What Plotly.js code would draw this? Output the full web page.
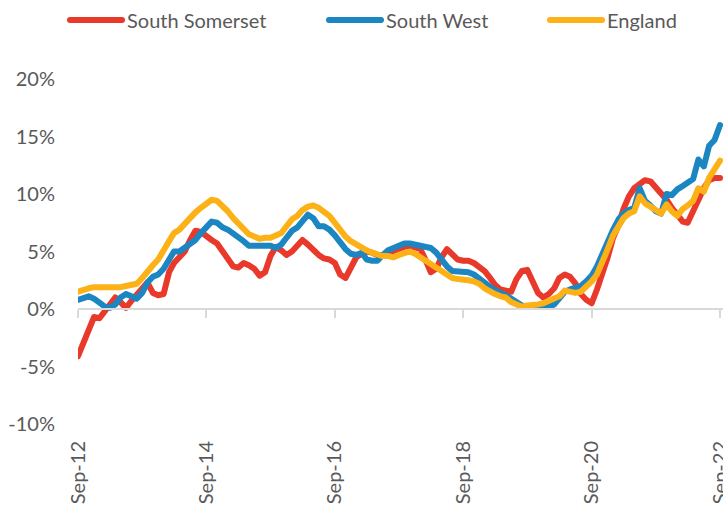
<!DOCTYPE html>
<html>
<head>
<meta charset="utf-8">
<script src="https://cdn.plot.ly/plotly-3.0.1.min.js"></script>
<style>
html, body { margin: 0; padding: 0; background: #fff; overflow: hidden; }
#chart { width: 723px; height: 508px; }
.js-line { stroke-linejoin: round; stroke-linecap: round; }
</style>
</head>
<body>
<div id="chart"></div>
<script>
// Monthly series, Sep-2012 .. Sep-2022 (annual % change)
const startMonth = '2012-09';
const seriesNames = ['South Somerset', 'South West', 'England'];
const seriesColors = ['#e8392b', '#1b86c2', '#fcb117'];

const southSomerset = [
  -4.1, -2.9, -1.7, -0.7, -0.8, -0.2, 0.4, 1.0, 0.6, 0.1, 0.7, 1.3,
  1.9, 2.3, 1.4, 1.2, 1.3, 3.2, 4.0, 4.5, 5.0, 6.0, 6.8, 6.7,
  6.3, 6.0, 5.7, 5.0, 4.3, 3.7, 3.6, 4.0, 3.8, 3.5, 2.9, 3.2,
  4.6, 5.4, 5.1, 4.7, 5.0, 5.5, 6.0, 5.6, 5.1, 4.7, 4.4, 4.3,
  4.0, 3.0, 2.7, 3.6, 4.5, 4.8, 5.0, 4.9, 4.7, 4.7, 4.9, 5.0,
  5.2, 5.4, 5.5, 5.4, 5.2, 4.2, 3.2, 3.5, 4.5, 5.2, 4.8, 4.3,
  4.2, 4.2, 4.0, 3.7, 3.3, 2.7, 2.1, 1.7, 1.6, 1.5, 2.6, 3.3,
  3.4, 2.4, 1.4, 1.0, 1.3, 1.8, 2.7, 3.0, 2.8, 2.2, 1.3, 0.8,
  0.5, 1.7, 3.0, 4.5, 6.2, 7.3, 8.7, 9.8, 10.5, 10.9, 11.2, 11.1,
  10.6, 10.0, 9.5, 8.8, 8.2, 7.6, 7.5, 8.5, 9.7, 10.5, 11.2, 11.4,
  11.4
];

const southWest = [
  0.8, 0.9, 1.1, 0.9, 0.6, 0.2, 0.1, 0.4, 1.0, 1.3, 1.1, 0.9,
  1.4, 2.3, 2.8, 3.0, 3.5, 4.3, 5.0, 5.0, 5.3, 5.6, 6.0, 6.6,
  7.1, 7.6, 7.5, 7.1, 6.9, 6.6, 6.3, 5.9, 5.5, 5.5, 5.6, 5.6,
  5.5, 5.3, 5.6, 6.2, 6.8, 7.1, 7.6, 8.2, 7.9, 7.2, 7.2, 6.9,
  6.4, 5.7, 5.2, 4.8, 4.7, 4.9, 4.3, 4.2, 4.2, 4.7, 5.1, 5.3,
  5.5, 5.7, 5.7, 5.6, 5.5, 5.4, 5.3, 4.9, 4.2, 3.7, 3.3, 3.3,
  3.3, 3.2, 3.0, 2.7, 2.3, 1.9, 1.6, 1.4, 1.2, 0.9, 0.6, 0.3,
  0.2, 0.2, 0.1, 0.1, 0.2, 0.4, 1.0, 1.5, 1.7, 1.8, 2.0, 2.4,
  2.9, 3.7, 4.8, 6.0, 6.9, 7.8, 8.3, 8.6, 8.8, 10.5, 9.4, 9.0,
  8.5, 8.3, 10.0, 9.9, 10.4, 10.7, 11.0, 11.3, 13.0, 12.4, 14.2, 14.7,
  16.0
];

const england = [
  1.5, 1.7, 1.8, 1.9, 1.9, 1.8, 1.8, 1.8, 1.9, 2.0, 2.1, 2.2,
  2.7, 3.3, 3.8, 4.3, 5.0, 5.9, 6.6, 6.9, 7.4, 8.0, 8.4, 8.8,
  9.2, 9.5, 9.4, 9.0, 8.5, 7.9, 7.5, 7.0, 6.5, 6.3, 6.1, 6.2,
  6.2, 6.4, 6.6, 7.2, 7.8, 8.1, 8.6, 8.9, 9.0, 8.8, 8.5, 8.1,
  7.5, 6.9, 6.3, 5.9, 5.6, 5.3, 5.1, 4.9, 4.7, 4.6, 4.6, 4.5,
  4.7, 4.9, 5.0, 4.8, 4.5, 4.1, 3.8, 3.5, 3.2, 2.9, 2.7, 2.6,
  2.6, 2.5, 2.4, 2.2, 1.8, 1.5, 1.3, 1.1, 1.0, 0.6, 0.4, 0.2,
  0.3, 0.3, 0.4, 0.5, 0.7, 0.9, 1.1, 1.6, 1.5, 1.4, 1.5, 1.9,
  2.4, 3.0, 4.0, 5.2, 6.4, 7.3, 7.9, 8.3, 8.5, 9.8, 9.2, 8.9,
  8.6, 8.3, 9.1, 8.5, 8.1, 8.7, 9.0, 9.4, 10.5, 10.2, 11.4, 12.2,
  12.9
];

const xTickVals = ['2012-09-01', '2014-09-01', '2016-09-01', '2018-09-01', '2020-09-01', '2022-09-01'];
const xTickLabels = ['Sep-12', 'Sep-14', 'Sep-16', 'Sep-18', 'Sep-20', 'Sep-22'];
const yTickVals = [-10, -5, 0, 5, 10, 15, 20];
const yTickLabels = ['-10%', '-5%', '0%', '5%', '10%', '15%', '20%'];

// month categories
function monthList(start, n) {
  const [y0, m0] = start.split('-').map(Number);
  const out = [];
  for (let i = 0; i < n; i++) {
    const t = (m0 - 1) + i;
    const y = y0 + Math.floor(t / 12);
    const m = (t % 12) + 1;
    out.push(y + '-' + String(m).padStart(2, '0') + '-01');
  }
  return out;
}
const months = monthList(startMonth, southSomerset.length);

const legendIds = ['legend', 'legend2', 'legend3'];
const allSeries = [southSomerset, southWest, england];
const traces = allSeries.map((vals, i) => ({
  type: 'scatter',
  mode: 'lines',
  name: seriesNames[i],
  x: months,
  y: vals,
  legend: legendIds[i],
  line: { color: seriesColors[i], width: 6 },
  hoverinfo: 'x+y+name'
}));
// empty helper trace so the zero-position axis (x2) is drawn
traces.push({
  type: 'scatter', mode: 'lines', x: [], y: [],
  xaxis: 'x2', yaxis: 'y', showlegend: false, hoverinfo: 'skip'
});

const xRange = ['2012-09-01', '2022-09-18'];
const gray = '#595959';
const fontFam = 'Lato, "Open Sans", sans-serif';

function legendAt(px) {
  return {
    orientation: 'h',
    xref: 'container', yref: 'container',
    x: px / 723, xanchor: 'left',
    y: 1 - 20 / 508, yanchor: 'middle',
    font: { family: fontFam, size: 20, color: gray },
    itemwidth: 52,
    bgcolor: 'rgba(0,0,0,0)'
  };
}

const layout = {
  width: 723,
  height: 508,
  margin: { l: 78, r: 0, t: 79, b: 84 },
  paper_bgcolor: '#ffffff',
  plot_bgcolor: '#ffffff',
  font: { family: fontFam, color: gray, size: 20 },
  showlegend: true,
  legend: legendAt(65),
  legend2: legendAt(324),
  legend3: legendAt(545),
  xaxis: {
    type: 'date',
    range: xRange,
    tickmode: 'array',
    tickvals: xTickVals,
    ticktext: xTickLabels,
    tickangle: -90,
    ticks: '',
    ticklabelstandoff: 12,
    ticklabeloverflow: 'allow',
    showline: false,
    showgrid: false,
    zeroline: false,
    tickfont: { family: fontFam, size: 20, color: gray },
    fixedrange: true
  },
  xaxis2: {
    type: 'date',
    overlaying: 'x',
    anchor: 'free',
    position: 10 / 30,
    range: xRange,
    tickmode: 'array',
    tickvals: xTickVals,
    ticks: 'outside',
    ticklen: 8,
    tickwidth: 2,
    tickcolor: '#d9d9d9',
    showticklabels: false,
    showline: true,
    linecolor: '#d9d9d9',
    linewidth: 2,
    showgrid: false,
    zeroline: false,
    fixedrange: true
  },
  yaxis: {
    range: [-10, 20],
    tickmode: 'array',
    tickvals: yTickVals,
    ticktext: yTickLabels,
    showgrid: false,
    zeroline: false,
    showline: false,
    ticks: '',
    ticklabelstandoff: 22,
    tickfont: { family: fontFam, size: 20, color: gray },
    fixedrange: true
  }
};

Plotly.newPlot('chart', traces, layout, { displayModeBar: false, staticPlot: true });
</script>
</body>
</html>
